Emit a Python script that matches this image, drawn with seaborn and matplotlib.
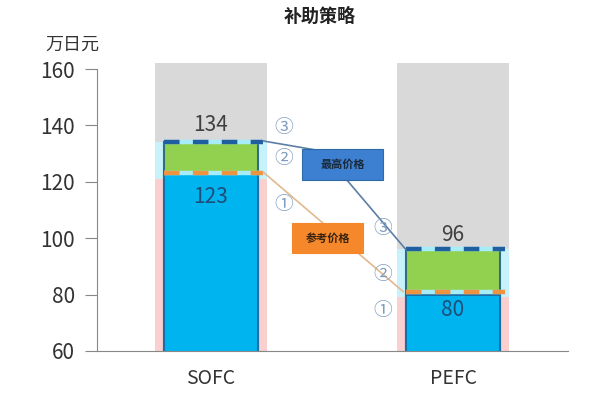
import matplotlib
matplotlib.use("Agg")
import matplotlib.pyplot as plt
import seaborn as sns
import pandas as pd
from matplotlib.patches import Rectangle

# ---- data ----
categories = ["SOFC", "PEFC"]
ref_price = [123, 80]          # 参考价格 (blue bar top)
max_price = [134, 96]          # 最高价格 (green bar top)
ref_line = [123, 81]           # orange dashed line level
pink_level = [121, 79]         # pink background top
band_top = [134, 96]           # light cyan background top
gray_top = [162, 162]          # gray background top
yticks = [60, 80, 100, 120, 140, 160]

sns.set_style("white")
plt.rcParams["font.family"] = ["Noto Sans CJK SC", "DejaVu Sans"]

fig = plt.figure(figsize=(6, 4), dpi=100)
ax = fig.add_axes([97 / 600, 1 - 351 / 400, 471 / 600, 289 / 400])

df = pd.DataFrame({"cat": categories, "ref": ref_price, "max": max_price,
                   "pink": pink_level, "band": band_top, "gray": gray_top})

wb = 0.46   # background width
wf = 0.39   # foreground width
sns.barplot(data=df, x="cat", y="gray", color="#d9d9d9", width=wb, ax=ax,
            saturation=1, linewidth=0)
sns.barplot(data=df, x="cat", y="band", color="#c8f2fb", width=wb, ax=ax,
            saturation=1, linewidth=0)
sns.barplot(data=df, x="cat", y="pink", color="#f9cfd0", width=wb, ax=ax,
            saturation=1, linewidth=0)
sns.barplot(data=df, x="cat", y="max", color="#92d050", width=wf, ax=ax,
            saturation=1, edgecolor="#2f6f7f", linewidth=1.5)
sns.barplot(data=df, x="cat", y="ref", color="#00b4f0", width=wf, ax=ax,
            saturation=1, edgecolor="#1b6fa5", linewidth=1.5)

# dashed price lines
for i in range(len(categories)):
    x0, x1 = i - wf / 2, i + wf / 2 + 0.02
    ax.hlines(max_price[i], x0, x1, color="#a6ecf9", lw=3.2, zorder=5)
    ax.hlines(max_price[i], x0, x1, color="#1f5fa0", lw=3.2,
              linestyles=(0, (3.5, 3)), zorder=6)
    ax.hlines(ref_line[i], x0, x1, color="#a6ecf9", lw=3.2, zorder=5)
    ax.hlines(ref_line[i], x0, x1, color="#ee9440", lw=3.2,
              linestyles=(0, (3.5, 3)), zorder=6)

# value labels
ax.text(0, max_price[0] + 6, str(max_price[0]), ha="center", va="center",
        fontsize=15, color="#404040", zorder=7)
ax.text(0, ref_price[0] - 8.4, str(ref_price[0]), ha="center", va="center",
        fontsize=15, color="#1f4e79", zorder=7)
ax.text(1, max_price[1] + 5.3, str(max_price[1]), ha="center", va="center",
        fontsize=15, color="#404040", zorder=7)
ax.text(1, ref_price[1] - 5.3, str(ref_price[1]), ha="center", va="center",
        fontsize=15, color="#1f4e79", zorder=7)

# connector lines
ax.plot([wf / 2 + 0.02, 0.46, 1 - wf / 2], [max_price[0] + 0.5, 130.9, max_price[1]],
        color="#5b7ea6", lw=1.2, zorder=7)
ax.plot([wf / 2 + 0.02, 1 - wf / 2 - 0.01], [ref_line[0] + 0.5, ref_line[1]],
        color="#e2b98c", lw=1.2, zorder=7)

# callout boxes
ax.add_patch(Rectangle((0.376, 120.6), 0.335, 11.0, facecolor="#3d7fd0",
                       edgecolor="#2f6aa8", lw=0.8, zorder=8))
ax.text(0.5435, 126.1, "最高价格", ha="center", va="center", fontsize=8,
        fontweight="bold", color="#1a2a3a", zorder=9)
ax.add_patch(Rectangle((0.335, 94.8), 0.293, 10.6, facecolor="#f5882a",
                       edgecolor="#f5882a", lw=0.8, zorder=8))
ax.text(0.4815, 100.1, "参考价格", ha="center", va="center", fontsize=8,
        fontweight="bold", color="#3a2410", zorder=9)

# circled step numbers
circ = dict(ha="center", va="center", fontsize=13.5, color="#7f9cc0", zorder=9,
            family=["Noto Sans CJK SC", "DejaVu Sans"])
ax.text(0.30, 139.4, "③", **circ)
ax.text(0.30, 128.4, "②", **circ)
ax.text(0.30, 112.0, "①", **circ)
ax.text(0.71, 103.3, "③", **circ)
ax.text(0.71, 87.3, "②", **circ)
ax.text(0.71, 74.2, "①", **circ)

# axes styling
ax.set_ylim(60, 162.5)
ax.set_xlim(-0.471, 1.475)
ax.set_yticks(yticks)
ax.set_yticklabels([str(v) for v in yticks])
ax.set_xticks([0, 1])
ax.set_xticklabels(categories)
ax.set_xticks([0.5], minor=True)
ax.tick_params(axis="x", which="major", length=0, labelsize=14, colors="#333333", pad=12)
ax.tick_params(axis="x", which="minor", length=5, width=0.8, color="#888888", direction="out")
ax.tick_params(axis="y", length=9, width=0.8, color="#888888", labelsize=15,
               labelcolor="#333333", pad=7, left=True, direction="out")
ax.set_xlabel("")
ax.set_ylabel("")
for s in ["top", "right"]:
    ax.spines[s].set_visible(False)
for s in ["left", "bottom"]:
    ax.spines[s].set_color("#888888")
    ax.spines[s].set_linewidth(0.8)
ax.spines["left"].set_bounds(60, 160)

fig.text(320 / 600, 1 - 16 / 400, "补助策略", ha="center", va="center",
         fontsize=13, fontweight="bold", color="#222222")
fig.text(72 / 600, 1 - 45 / 400, "万日元", ha="center", va="center",
         fontsize=13, color="#333333")

fig.savefig("out.png", dpi=100)
